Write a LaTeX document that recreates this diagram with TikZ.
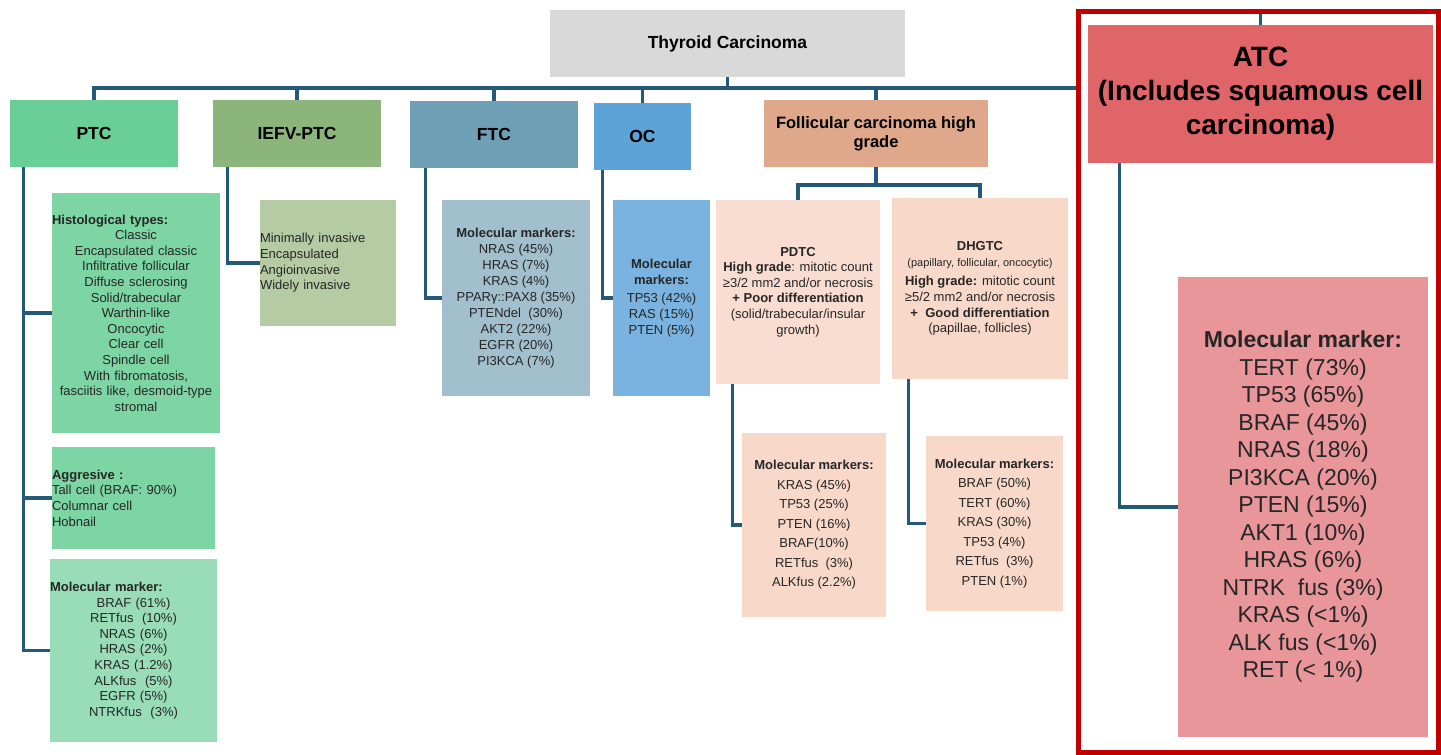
\documentclass[tikz,border=0pt]{standalone}
\usepackage{fontspec}
\setmainfont{Liberation Sans}
\usepackage{xcolor}

\definecolor{lnk}{HTML}{245A78}
\definecolor{txt}{HTML}{262626}
\definecolor{titleC}{HTML}{D9D9D9}
\definecolor{ptcC}{HTML}{69CF96}
\definecolor{ptcL}{HTML}{7DD5A4}
\definecolor{ptcM}{HTML}{98DDB7}
\definecolor{iefvC}{HTML}{8BB57B}
\definecolor{iefvL}{HTML}{B4CBA4}
\definecolor{ftcC}{HTML}{6F9FB4}
\definecolor{ftcL}{HTML}{A2BFCD}
\definecolor{ocC}{HTML}{5EA3D8}
\definecolor{ocL}{HTML}{7AB3DF}
\definecolor{fchgC}{HTML}{E0A88A}
\definecolor{fchgL}{HTML}{F9DDD1}
\definecolor{fchgM}{HTML}{F8D8C9}
\definecolor{atcC}{HTML}{E06568}
\definecolor{atcL}{HTML}{E8969A}
\definecolor{frameC}{HTML}{C00000}

\newcommand{\lefthead}[1]{\makebox[\hsize][l]{\textbf{#1}}}

\tikzset{
  box/.style={rectangle, inner sep=0pt, align=center, text=txt},
  head/.style={box, text=black, font=\bfseries\fontsize{17.5}{20}\selectfont},
  body/.style={box, font=\fontsize{13}{15.6}\selectfont},
  conn/.style={draw=lnk, line width=3.2pt},
}

\begin{document}
\begin{tikzpicture}[x=1pt,y=-1pt]
  \useasboundingbox (0,0) rectangle (1441,755);

  % top level
  \node[head, fill=titleC, minimum width=355, minimum height=67] (title) at (727.5,43.5) {Thyroid Carcinoma};

  \node[head, fill=ptcC, minimum width=168, minimum height=67] (ptc) at (94,133.5) {PTC};
  \node[head, fill=iefvC, minimum width=168, minimum height=67] (iefv) at (297,133.5) {IEFV-PTC};
  \node[head, fill=ftcC, minimum width=168, minimum height=67] (ftc) at (494,134.5) {FTC};
  \node[head, fill=ocC, minimum width=97, minimum height=67] (oc) at (642.5,136.5) {OC};
  \node[head, fill=fchgC, minimum width=224, minimum height=67, font=\bfseries\fontsize{16.5}{19}\selectfont] (fchg) at (876,133.5) {Follicular carcinoma high\\grade};
  \node[head, fill=atcC, minimum width=345, minimum height=138, font=\bfseries\fontsize{28}{34}\selectfont] (atc) at (1260.5,94) {ATC\\(Includes squamous cell\\carcinoma)};

  % PTC
  \node[body, fill=ptcL, minimum width=168, minimum height=240, text width=168pt] (histo) at (136,313)
    {\lefthead{Histological types:}\\Classic\\Encapsulated classic\\Infiltrative follicular\\Diffuse sclerosing\\Solid/trabecular\\Warthin-like\\Oncocytic\\Clear cell\\Spindle cell\\With fibromatosis,\\fasciitis like, desmoid-type\\stromal};
  \node[body, fill=ptcL, minimum width=163, minimum height=102, text width=163pt, align=left] (aggr) at (133.5,498)
    {\textbf{Aggresive :}\\Tall cell (BRAF: 90\%)\\Columnar cell\\Hobnail};
  \node[body, fill=ptcM, minimum width=167, minimum height=183, text width=167pt] (molptc) at (133.5,650.5)
    {\lefthead{Molecular marker:}\\BRAF (61\%)\\RETfus~ (10\%)\\NRAS (6\%)\\HRAS (2\%)\\KRAS (1.2\%)\\ALKfus~ (5\%)\\EGFR (5\%)\\NTRKfus~ (3\%)};

  % IEFV-PTC, FTC, OC
  \node[body, fill=iefvL, minimum width=136, minimum height=126, text width=136pt, align=left] (iefvsub) at (328,263)
    {Minimally invasive\\Encapsulated\\Angioinvasive\\Widely invasive};
  \node[body, fill=ftcL, minimum width=148, minimum height=196, font=\fontsize{13}{16}\selectfont] (ftcsub) at (516,298)
    {\textbf{Molecular markers:}\\NRAS (45\%)\\HRAS (7\%)\\KRAS (4\%)\\PPARγ::PAX8 (35\%)\\PTENdel~ (30\%)\\AKT2 (22\%)\\EGFR (20\%)\\PI3KCA (7\%)};
  \node[body, fill=ocL, minimum width=97, minimum height=196, font=\fontsize{13}{16}\selectfont] (ocsub) at (661.5,298)
    {\textbf{Molecular}\\\textbf{markers:}\\[2pt]TP53 (42\%)\\RAS (15\%)\\PTEN (5\%)};

  % high grade
  \node[body, fill=fchgL, minimum width=164, minimum height=184, font=\fontsize{13}{15.6}\selectfont] (pdtc) at (798,292)
    {\textbf{PDTC}\\\textbf{High grade}: mitotic count\\≥3/2 mm2 and/or necrosis\\\textbf{+ Poor differentiation}\\(solid/trabecular/insular\\growth)};
  \node[body, fill=fchgM, minimum width=176, minimum height=181, font=\fontsize{13}{15.6}\selectfont] (dhgtc) at (980,288.5)
    {\textbf{DHGTC}\\{\fontsize{11}{13}\selectfont(papillary, follicular, oncocytic)}\\[4pt]\textbf{High grade:} mitotic count\\≥5/2 mm2 and/or necrosis\\\textbf{+~ Good differentiation}\\(papillae, follicles)};
  \node[body, fill=fchgM, minimum width=144, minimum height=184, font=\fontsize{13}{19.5}\selectfont] (pdtcmol) at (814,525)
    {\textbf{Molecular markers:}\\KRAS (45\%)\\TP53 (25\%)\\PTEN (16\%)\\BRAF(10\%)\\RETfus~ (3\%)\\ALKfus (2.2\%)};
  \node[body, fill=fchgM, minimum width=137, minimum height=175, font=\fontsize{13}{19.5}\selectfont] (dhgtcmol) at (994.5,523.5)
    {\textbf{Molecular markers:}\\BRAF (50\%)\\TERT (60\%)\\KRAS (30\%)\\TP53 (4\%)\\RETfus~ (3\%)\\PTEN (1\%)};

  % ATC
  \node[box, fill=atcL, minimum width=250, minimum height=460, font=\fontsize{23}{27.5}\selectfont] (atcmol) at (1303,507)
    {\textbf{Molecular marker:}\\TERT (73\%)\\TP53 (65\%)\\BRAF (45\%)\\NRAS (18\%)\\PI3KCA (20\%)\\PTEN (15\%)\\AKT1 (10\%)\\HRAS (6\%)\\NTRK~ fus (3\%)\\KRAS (<1\%)\\ALK fus (<1\%)\\RET (< 1\%)};

  % connectors
  \coordinate (busR) at (1078,88);
  \coordinate (fork) at (876,185);
  \draw[conn] (ptc.north) |- (busR);
  \draw[conn] (title.south) -- (title.south |- busR);
  \draw[conn] (iefv.north) -- (iefv.north |- busR);
  \draw[conn] (ftc.north) -- (ftc.north |- busR);
  \draw[conn] (oc.north) -- (oc.north |- busR);
  \draw[conn] (fchg.north) -- (fchg.north |- busR);
  \draw[conn] (atc.north) -- ++(0,-15);

  \draw[conn] ([xshift=14pt]ptc.south west) |- (molptc.west);
  \draw[conn] ([xshift=14pt]ptc.south west |- histo.west) -- (histo.west);
  \draw[conn] ([xshift=14pt]ptc.south west |- aggr.west) -- (aggr.west);
  \draw[conn] ([xshift=15pt]iefv.south west) |- (iefvsub.west);
  \draw[conn] ([xshift=16pt]ftc.south west) |- (ftcsub.west);
  \draw[conn] ([xshift=9pt]oc.south west) |- (ocsub.west);

  \draw[conn] (fchg.south) -- (fork);
  \draw[conn] (pdtc.north) |- (fork) -| (dhgtc.north);
  \draw[conn] ([xshift=17pt]pdtc.south west) |- (pdtcmol.west);
  \draw[conn] ([xshift=17pt]dhgtc.south west) |- (dhgtcmol.west);
  \draw[conn] ([xshift=32pt]atc.south west) |- (atcmol.west);

  % highlight frame
  \draw[frameC, line width=5pt] (1078,11) rectangle (1438,752);

\end{tikzpicture}
\end{document}
